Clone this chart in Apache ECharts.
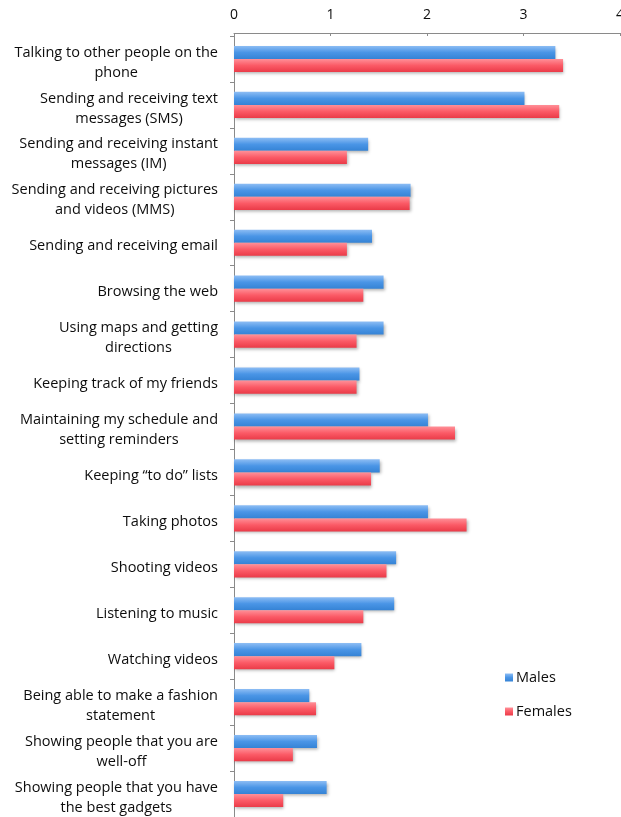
<!DOCTYPE html>
<html>
<head>
<meta charset="utf-8">
<script src="https://cdn.jsdelivr.net/npm/echarts@6/dist/echarts.min.js"></script>
<style>
  html, body { margin: 0; padding: 0; background: #fff; }
  #chart { width: 621px; height: 817px; }
</style>
</head>
<body>
<div id="chart"></div>
<script>
// Phone activities, rated by gender
const categories = [
  'Talking to other people on the\nphone',
  'Sending and receiving text\nmessages (SMS)',
  'Sending and receiving instant\nmessages (IM)',
  'Sending and receiving pictures\nand videos (MMS)',
  'Sending and receiving email',
  'Browsing the web',
  'Using maps and getting\ndirections',
  'Keeping track of my friends',
  'Maintaining my schedule and\nsetting reminders',
  'Keeping \u201cto do\u201d lists',
  'Taking photos',
  'Shooting videos',
  'Listening to music',
  'Watching videos',
  'Being able to make a fashion\nstatement',
  'Showing people that you are\nwell-off',
  'Showing people that you have\nthe best gadgets'
];
const males   = [3.33, 3.01, 1.39, 1.83, 1.43, 1.55, 1.55, 1.30, 2.01, 1.51, 2.01, 1.68, 1.66, 1.32, 0.78, 0.86, 0.96];
const females = [3.41, 3.37, 1.17, 1.82, 1.17, 1.34, 1.27, 1.27, 2.29, 1.42, 2.41, 1.58, 1.34, 1.04, 0.85, 0.61, 0.51];
const axisTicks = [0, 1, 2, 3, 4];

const FONT = '"Open Sans", "DejaVu Sans", sans-serif';
const TEXT = '#0d0d0d';

function barFill(top, mid, bottom) {
  return new echarts.graphic.LinearGradient(0, 0, 0, 1, [
    { offset: 0, color: top },
    { offset: 0.5, color: mid },
    { offset: 1, color: bottom }
  ]);
}

const chart = echarts.init(document.getElementById('chart'), null, { renderer: 'canvas' });

chart.setOption({
  animation: false,
  backgroundColor: '#ffffff',
  textStyle: { fontFamily: FONT },
  grid: { left: 234, right: 1, top: 36, height: 781, containLabel: false, outerBoundsMode: 'none' },
  legend: {
    orient: 'vertical',
    left: 500,
    top: 665,
    itemWidth: 8,
    itemHeight: 8,
    itemGap: 19,
    icon: 'rect',
    textStyle: { fontFamily: FONT, fontSize: 14.5, color: TEXT, padding: [0, 0, 0, -2] },
    data: ['Males', 'Females']
  },
  xAxis: {
    type: 'value',
    position: 'top',
    offset: 3,
    min: axisTicks[0],
    max: axisTicks[axisTicks.length - 1],
    interval: 1,
    axisLine: { show: true, lineStyle: { color: '#8a8a8a', width: 1 } },
    axisTick: { show: true, inside: true, length: 3, lineStyle: { color: '#8a8a8a' } },
    splitLine: { show: false },
    axisLabel: { fontFamily: FONT, fontSize: 14, color: TEXT, margin: 11 }
  },
  yAxis: {
    type: 'category',
    inverse: true,
    data: categories,
    axisLine: { show: true, lineStyle: { color: '#8a8a8a', width: 1 } },
    axisTick: { show: true, length: 4, lineStyle: { color: '#8a8a8a' } },
    axisLabel: {
      margin: 16,
      align: 'right',
      padding: [7, 0, 0, 0],
      formatter: function (v) {
        return v.split('\n').map(function (s) { return '{c|' + s + '}'; }).join('\n');
      },
      rich: {
        c: { fontFamily: FONT, fontSize: 14.5, color: TEXT, align: 'center', lineHeight: 20 }
      }
    }
  },
  series: [
    {
      name: 'Males',
      type: 'bar',
      data: males,
      barGap: '0%',
      barCategoryGap: '43%',
      itemStyle: {
        color: barFill('#8dbdf4', '#4a95e6', '#3583d5'),
        shadowColor: 'rgba(0,0,0,0.30)',
        shadowBlur: 3,
        shadowOffsetX: 1,
        shadowOffsetY: 2
      }
    },
    {
      name: 'Females',
      type: 'bar',
      data: females,
      itemStyle: {
        color: barFill('#ff9098', '#fb5a66', '#ea3b48'),
        shadowColor: 'rgba(0,0,0,0.30)',
        shadowBlur: 3,
        shadowOffsetX: 1,
        shadowOffsetY: 2
      }
    }
  ]
});
</script>
</body>
</html>
